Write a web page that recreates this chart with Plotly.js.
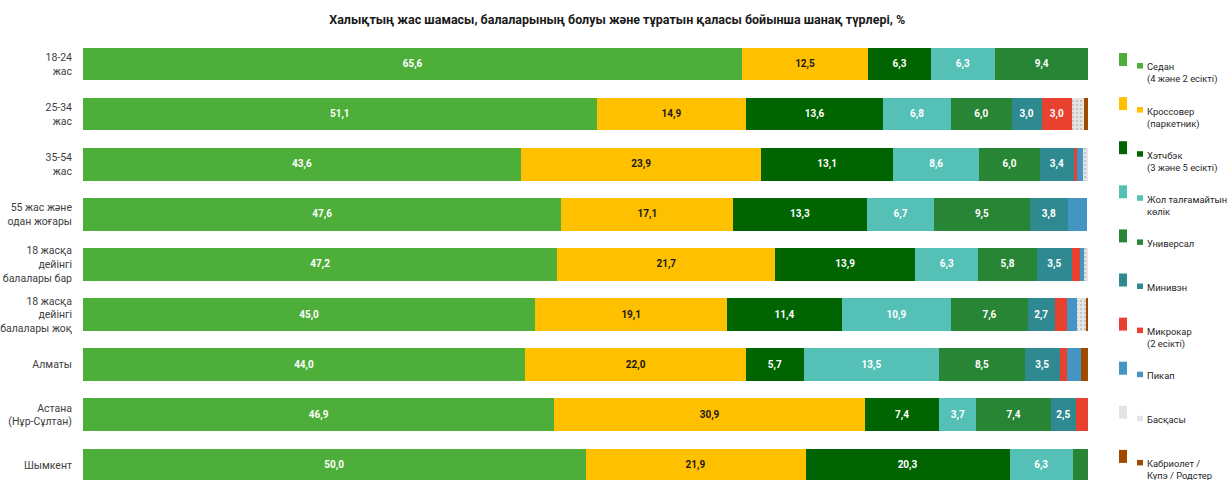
<!DOCTYPE html>
<html>
<head>
<meta charset="utf-8">
<script src="https://cdn.plot.ly/plotly-3.0.1.min.js"></script>
<style>html,body{margin:0;padding:0;background:#fff;}#chart{width:1227px;height:480px;}</style>
</head>
<body>
<div id="chart"></div>
<script>
// Categories (top to bottom)
const categories = [
  "18-24<br>жас",
  "25-34<br>жас",
  "35-54<br>жас",
  "55 жас және<br>одан жоғары",
  "18 жасқа<br>дейінгі<br>балалары бар",
  "18 жасқа<br>дейінгі<br>балалары жоқ",
  "Алматы",
  "Астана<br>(Нұр-Сұлтан)",
  "Шымкент"
];

// Series names (legend)
const seriesNames = [
  "Седан<br>(4 және 2 есікті)",
  "Кроссовер<br>(паркетник)",
  "Хэтчбэк<br>(3 және 5 есікті)",
  "Жол талғамайтын<br>көлік",
  "Универсал",
  "Минивэн",
  "Микрокар<br>(2 есікті)",
  "Пикап",
  "Басқасы",
  "Кабриолет /<br>Купэ / Родстер"
];

// Values per series, one per category
const sedan      = [65.6, 51.1, 43.6, 47.6, 47.2, 45.0, 44.0, 46.9, 50.0];
const crossover  = [12.5, 14.9, 23.9, 17.1, 21.7, 19.1, 22.0, 30.9, 21.9];
const hatchback  = [6.3, 13.6, 13.1, 13.3, 13.9, 11.4, 5.7, 7.4, 20.3];
const offroad    = [6.3, 6.8, 8.6, 6.7, 6.3, 10.9, 13.5, 3.7, 6.3];
const universal  = [9.4, 6.0, 6.0, 9.5, 5.8, 7.6, 8.5, 7.4, 1.5];
const minivan    = [0, 3.0, 3.4, 3.8, 3.5, 2.7, 3.5, 2.5, 0];
const microcar   = [0, 3.0, 0.3, 0, 0.8, 1.2, 0.7, 1.2, 0];
const pickup     = [0, 0, 0.6, 1.9, 0.4, 1.0, 1.4, 0, 0];
const other      = [0, 1.2, 0.5, 0, 0.4, 0.9, 0, 0, 0];
const cabrio     = [0, 0.5, 0, 0, 0, 0.2, 0.7, 0, 0];

const seriesValues = [sedan, crossover, hatchback, offroad, universal, minivan, microcar, pickup, other, cabrio];
const colors = ["#4EAE3A", "#FFC000", "#006400", "#55C0B6", "#288536", "#2E8A90", "#E8412F", "#4494C4", "#E4E4E4", "#A04A00"];
const textColors = ["#ffffff", "#1a1a1a", "#ffffff", "#ffffff", "#ffffff", "#ffffff", "#ffffff", "#ffffff", "#ffffff", "#ffffff"];

const FONT = "Roboto, 'Noto Sans', sans-serif";

const traces = seriesValues.map((vals, i) => {
  const t = {
    type: "bar",
    orientation: "h",
    name: seriesNames[i],
    y: categories,
    x: vals,
    text: vals.map(v => v >= 2.5 ? v.toFixed(1).replace(".", ",") : ""),
    textposition: "inside",
    insidetextanchor: "middle",
    textangle: 0,
    constraintext: "none",
    textfont: {family: FONT, size: 10, color: textColors[i], weight: "bold"},
    marker: {color: colors[i], line: {width: 0}},
    hoverinfo: "x+name",
    width: 0.65,
    showlegend: false
  };
  if (i === 8) {
    t.marker.pattern = {shape: ".", bgcolor: "#E4E4E4", fgcolor: "#A8A8A8", size: 4, solidity: 0.15};
  }
  return t;
});

// Layout geometry (pixels)
const W = 1227, H = 480;
const mL = 83, mR = 139, mT = 39, mB = 0;
const plotW = W - mL - mR, plotH = H - mT - mB;
const px = x => (x - mL) / plotW;
const py = y => (H - mB - y) / plotH;

const shapes = [];
const annotations = [];
const legendTop = 53, legendStep = 44.1;
seriesNames.forEach((name, i) => {
  const top = legendTop + i * legendStep;
  shapes.push({type: "rect", xref: "paper", yref: "paper",
    x0: px(1119), x1: px(1127), y0: py(top), y1: py(top + 13),
    fillcolor: colors[i], line: {width: 0}});
  shapes.push({type: "rect", xref: "paper", yref: "paper",
    x0: px(1137), x1: px(1143), y0: py(top + 10), y1: py(top + 15.5),
    fillcolor: colors[i], line: {width: 0}});
  annotations.push({xref: "paper", yref: "paper", x: px(1145), y: py(top + 6.5),
    xanchor: "left", yanchor: "top", align: "left", showarrow: false,
    text: name, font: {family: FONT, size: 9.4, color: "#262626"}});
});

const layout = {
  width: W, height: H,
  margin: {l: mL, r: mR, t: mT, b: mB, pad: 0},
  paper_bgcolor: "#ffffff", plot_bgcolor: "#ffffff",
  barmode: "stack",
  bargap: 0.35,
  showlegend: false,
  title: {
    text: "<b>Халықтың жас шамасы, балаларының болуы және тұратын қаласы бойынша шанақ түрлері, %</b>",
    font: {family: FONT, size: 12.5, color: "#1a1a1a"},
    x: 0.503, xref: "container", xanchor: "center",
    y: 0.96, yref: "container", yanchor: "middle"
  },
  xaxis: {range: [0, 100], visible: false, fixedrange: true},
  yaxis: {
    type: "category",
    range: [8.303, -0.5],
    showgrid: false, zeroline: false, showline: false,
    ticks: "", ticklabelstandoff: 10,
    tickfont: {family: FONT, size: 10.5, color: "#404040"}
  },
  shapes: shapes,
  annotations: annotations,
  font: {family: FONT}
};

Plotly.newPlot("chart", traces, layout, {displayModeBar: false, staticPlot: true});
</script>
</body>
</html>
